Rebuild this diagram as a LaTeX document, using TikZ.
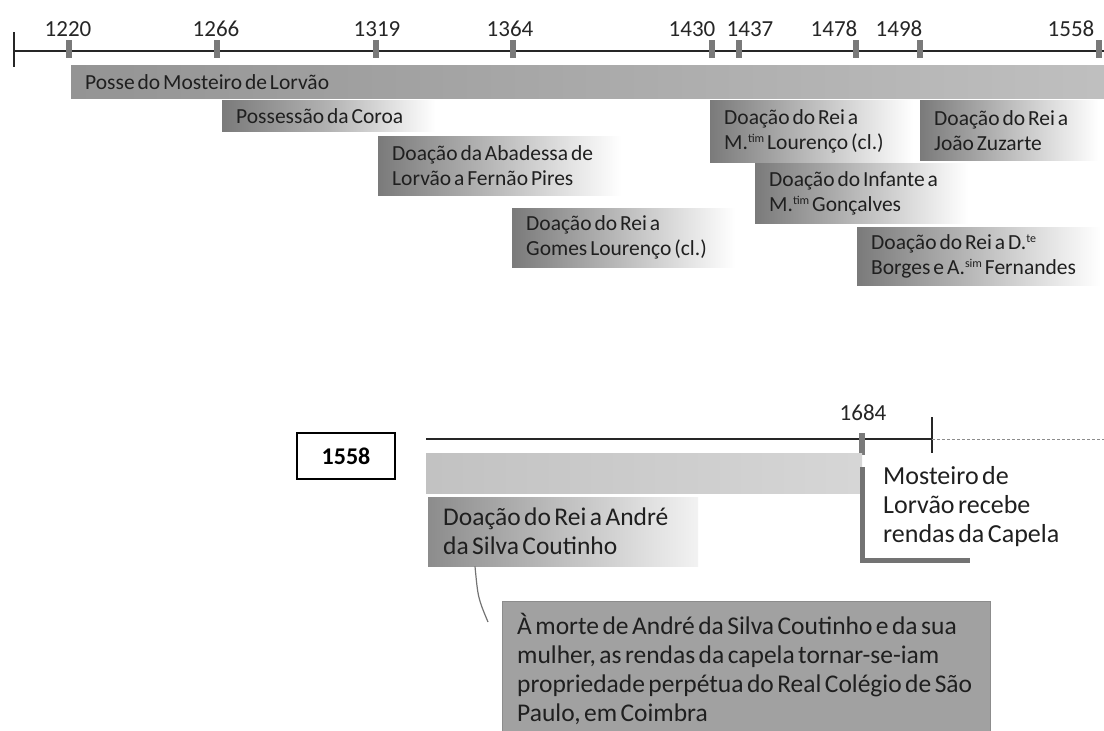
\documentclass[tikz,border=0pt]{standalone}
\usepackage{fontspec}
\setmainfont{Carlito}[WordSpace=0.6]
\usetikzlibrary{shadings}
\hyphenpenalty=10000
\exhyphenpenalty=10000
\newcommand\supx[1]{\raisebox{0.33em}{\fontsize{12}{12}\selectfont #1}}
\tikzset{
  axis/.style={black!85, line width=2pt},
  tickmark/.style={fill=black!52, minimum width=6pt, minimum height=18pt, inner sep=0pt},
  yearlabel/.style={font=\fontsize{23}{23}\selectfont, text=black!85, inner sep=0pt, anchor=base},
  bar/.style={anchor=north west, left color=black!52, right color=white, text=black!88,
    align=left, inner xsep=14pt, inner ysep=0pt, font=\fontsize{21.5}{25}\selectfont,
    execute at begin node={\spaceskip=0pt\relax\xspaceskip=0pt\relax}},
  bigtext/.style={text=black!88, align=left, font=\fontsize{26}{29}\selectfont},
  bracketline/.style={black!55, line width=5pt},
}
\begin{document}
\begin{tikzpicture}[x=1pt, y=-1pt]
\useasboundingbox (0,0) rectangle (1104,731);

\coordinate (start) at (14,51);
\coordinate (stop) at (1104,51);
\draw[axis] (start) -- (stop);
\draw[axis] ([yshift=19pt]start) -- ([yshift=-16pt]start);

\begin{scope}[every node/.style=tickmark]
  \foreach \x/\yr in {69/1220, 217/1266, 376/1319, 513/1364, 712/1430,
                      739/1437, 856/1478, 920/1498, 1099/1558}
    \node (t\yr) at (\x,49) {};
\end{scope}
\foreach \x/\yr in {68/1220, 216/1266, 377/1319, 510/1364, 692/1430,
                    750/1437, 834/1478, 899/1498, 1071/1558}
  \node[yearlabel] (y\yr) at (\x,36) {\yr};

\node[bar, left color=black!42, right color=black!25, text width=1005pt, minimum height=33pt]
  (posse) at (71,65) {Posse do Mosteiro de Lorvão};
\node[bar, middle color=black!30, text width=185pt, minimum height=31pt]
  (coroa) at (222,100) {Possessão da Coroa};
\node[bar, text width=215pt, minimum height=59pt]
  (abadessa) at (378,136) {Doação da Abadessa de\\Lorvão a Fernão Pires};
\node[bar, text width=195pt, minimum height=59pt]
  (gomes) at (512,208) {Doação do Rei a\\Gomes Lourenço (cl.)};
\node[bar, text width=175pt, minimum height=62pt]
  (lourenco) at (710,100) {Doação do Rei a\\M.\supx{tim} Lourenço (cl.)};
\node[bar, text width=150pt, minimum height=60pt]
  (zuzarte) at (920,100) {Doação do Rei a\\João Zuzarte};
\node[bar, text width=185pt, minimum height=60pt]
  (infante) at (755,163) {Doação do Infante a\\M.\supx{tim} Gonçalves};
\node[bar, text width=215pt, minimum height=58pt]
  (borges) at (857,227) {Doação do Rei a D.\supx{te}\\Borges e A.\supx{sim} Fernandes};

\node[draw=black, line width=1.4pt, minimum width=98pt, minimum height=46pt,
  font=\bfseries\fontsize{24}{24}\selectfont] (box1558) at (346,456) {1558};

\coordinate (low) at (426,439);
\coordinate (lowend) at (932,439);
\coordinate (edge) at (1104,439);
\draw[axis] (low) -- (lowend);
\draw[axis] ([yshift=22pt]lowend) -- ([yshift=-14pt]lowend);
\draw[black!45, line width=1pt, dash pattern=on 3pt off 2pt] (lowend) -- (edge);
\node[tickmark, minimum height=22pt] (t1684) at (862,444) {};
\node[yearlabel] (y1684) at (863,420) {1684};

\node[bar, left color=black!24, right color=black!16, minimum width=436pt, minimum height=40pt]
  (capela) at (426,453) {};
\node[bar, font=\fontsize{25.5}{29}\selectfont, inner xsep=15pt, text width=240pt, minimum height=69pt,
  left color=black!45, right color=black!5]
  (andre) at (428,497) {Doação do Rei a André\\da Silva Coutinho};

\node[bigtext, anchor=north west, inner sep=0pt] (mosteiro) at (883,466)
  {Mosteiro de\\Lorvão recebe\\rendas da Capela};
\coordinate (corner) at (970,560);
\draw[bracketline] ([yshift=-12pt]t1684.south) |- (corner);

\node[bar, font=\fontsize{25.5}{29}\selectfont, fill=black!37, shading=, left color=black!37, right color=black!37,
  draw=black!45, inner xsep=15pt, inner ysep=12pt, text width=458pt]
  (morte) at (502,601)
  {À morte de André da Silva Coutinho e da sua\\mulher, as rendas da capela tornar-se-iam\\propriedade perpétua do Real Colégio de São\\Paulo, em Coimbra};

\coordinate (tip) at (488,622);
\draw[black!55, line width=1.2pt] ([xshift=47pt]andre.south west) .. controls (478,598) .. (tip);
\end{tikzpicture}
\end{document}
